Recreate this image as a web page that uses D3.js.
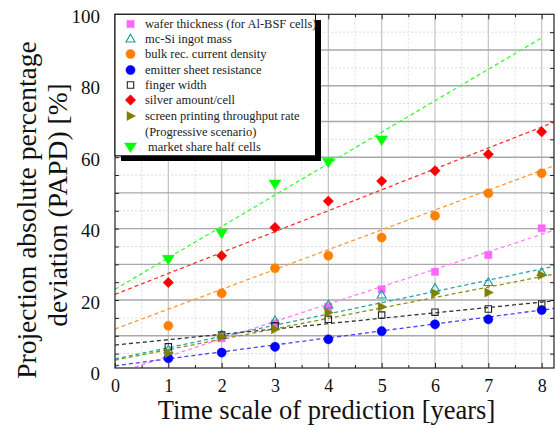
<!DOCTYPE html>
<meta charset="utf-8">
<style>
  body { margin: 0; background: #fff; }
  svg { display: block; }
  svg text { font-family: "Liberation Serif", "Times New Roman", serif; }
</style>
<script src="https://d3js.org/d3.v7.min.js"></script>
<div id="chart"></div>
<script>
  // values
  var years = [1, 2, 3, 4, 5, 6, 7, 8];
  var seriesNames = [
    "wafer thickness (for Al-BSF cells)",
    "mc-Si ingot mass",
    "bulk rec. current density",
    "emitter sheet resistance",
    "finger width",
    "silver amount/cell",
    "screen printing throughput rate",
    "market share half cells"
  ];
  var wafer    = [4.2, 9.3, 13.5, 18.1, 23.0, 27.9, 32.6, 40.1];
  var ingot    = [6.0, 10.2, 14.2, 18.6, 21.4, 23.3, 24.9, 27.7];
  var bulk     = [12.8, 21.9, 28.9, 32.4, 37.5, 43.6, 49.9, 55.5];
  var emitter  = [3.7, 5.3, 6.9, 9.0, 11.3, 13.2, 14.6, 17.2];
  var finger   = [6.9, 10.2, 12.8, 14.6, 15.8, 16.6, 17.5, 18.9];
  var silver   = [24.9, 32.4, 40.3, 47.7, 53.3, 56.2, 60.8, 67.1];
  var printing = [5.1, 9.7, 11.8, 16.5, 18.1, 21.9, 22.1, 27.0];
  var halfCell = [31.4, 38.7, 52.5, 58.6, 64.8];

  // dashed fit lines: value at year 0 and at trendTo
  var trendStart = [-0.6, 3.5, 11.9, 1.6, 7.4, 21.6, 3.2, 23.0];
  var trendEnd   = [39.6, 29.5, 57.7, 17.7, 19.8, 69.9, 27.3, 93.4];
  var trendTo    = [8.25, 8.25, 8.25, 8.25, 8.25, 8.25, 8.25, 8];

  var xTicks = [0, 1, 2, 3, 4, 5, 6, 7, 8];
  var yTicks = [0, 20, 40, 60, 80, 100];

  var allValues = [wafer, ingot, bulk, emitter, finger, silver, printing, halfCell];
  var colors = ["#ff66ff", "#1a9a9a", "#ff8000", "#0000ff", "#222222", "#ff0000", "#7f7f00", "#00ff00"];
  var lineColors = ["#ff80ff", "#2aa5a5", "#ff9933", "#4444ff", "#333333", "#ff3333", "#8f8f10", "#33ff33"];
  var shapes = ["square", "triUpOpen", "circle", "circle", "squareOpen", "diamond", "triRight", "triDown"];

  var W = 555, H = 428;
  var pLeft = 115, pRight = 554, pTop = 14.3, pBottom = 368;
  var serif = "Liberation Serif, Times New Roman, serif";

  var x = d3.scaleLinear().domain([0, 8.25]).range([115, 555]);
  var y = d3.scaleLinear().domain([0, 100]).range([371.5, 14.3]);

  var svg = d3.select("#chart").append("svg")
    .attr("width", W).attr("height", H);

  svg.append("defs").append("clipPath").attr("id", "plotClip")
    .append("rect").attr("x", pLeft).attr("y", pTop)
    .attr("width", pRight - pLeft).attr("height", pBottom - pTop);

  // grid
  var grid = svg.append("g").attr("clip-path", "url(#plotClip)");
  d3.range(0.5, 8.3, 0.5).forEach(function(v) {
    var major = v % 1 === 0;
    grid.append("line")
      .attr("x1", x(v)).attr("x2", x(v)).attr("y1", pTop).attr("y2", pBottom)
      .attr("stroke", major ? "#c4c4c4" : "#d4d4d4")
      .attr("stroke-width", major ? 1.2 : 0.8)
      .attr("stroke-dasharray", major ? null : "2,2");
  });
  d3.range(5, 100, 5).forEach(function(v) {
    var major = v % 10 === 0;
    grid.append("line")
      .attr("x1", pLeft).attr("x2", pRight).attr("y1", y(v)).attr("y2", y(v))
      .attr("stroke", major ? "#a8a8a8" : "#d0d0d0")
      .attr("stroke-width", major ? 1.4 : 0.8)
      .attr("stroke-dasharray", major ? null : "2,2");
  });

  // tick marks inside the frame
  function inTicks(axis, vals, size) {
    return axis.tickValues(vals).tickSize(size).tickFormat("");
  }
  var majX = d3.range(0, 8.3, 1), minX = d3.range(0.5, 8.3, 1);
  var tickY = d3.range(5, 100, 5);
  [[d3.axisTop, pBottom], [d3.axisBottom, pTop]].forEach(function(a) {
    svg.append("g").attr("transform", "translate(0," + a[1] + ")")
      .call(inTicks(a[0](x), majX, 5)).call(function(g) { g.select(".domain").remove(); });
    svg.append("g").attr("transform", "translate(0," + a[1] + ")")
      .call(inTicks(a[0](x), minX, 3)).call(function(g) { g.select(".domain").remove(); });
  });
  svg.append("g").attr("transform", "translate(" + pLeft + ",0)")
    .call(inTicks(d3.axisRight(y), tickY, 4)).call(function(g) { g.select(".domain").remove(); });
  svg.append("g").attr("transform", "translate(" + pRight + ",0)")
    .call(inTicks(d3.axisLeft(y), tickY, 4)).call(function(g) { g.select(".domain").remove(); });
  svg.selectAll(".tick line").attr("stroke", "#222");

  // tick labels
  var xAxis = svg.append("g").attr("transform", "translate(0," + pBottom + ")")
    .call(d3.axisBottom(x).tickValues(xTicks).tickSize(0).tickPadding(11));
  xAxis.select(".domain").remove();
  xAxis.attr("font-family", serif);
  xAxis.selectAll("text").attr("font-size", "18px").attr("fill", "#111");

  var yAxis = svg.append("g").attr("transform", "translate(" + pLeft + ",0)")
    .call(d3.axisLeft(y).tickValues(yTicks).tickSize(0).tickPadding(15));
  yAxis.select(".domain").remove();
  yAxis.attr("font-family", serif);
  yAxis.selectAll("text").attr("font-size", "19px").attr("fill", "#111").attr("dy", "0.42em");

  // fit lines
  var plot = svg.append("g").attr("clip-path", "url(#plotClip)");
  allValues.forEach(function(vals, i) {
    plot.append("line")
      .attr("x1", x(0)).attr("y1", y(trendStart[i]))
      .attr("x2", x(trendTo[i])).attr("y2", y(trendEnd[i]))
      .attr("stroke", lineColors[i]).attr("stroke-width", 1.3)
      .attr("stroke-dasharray", "4,3");
  });

  // markers
  function shapePath(s) {
    switch (s) {
      case "square": case "squareOpen":
        var h = s === "square" ? 3.6 : 3.2;
        return "M" + (-h) + "," + (-h) + "H" + h + "V" + h + "H" + (-h) + "Z";
      case "circle":
        return d3.symbol(d3.symbolCircle, 66)();
      case "diamond":
        return "M0,-5.2L5.2,0L0,5.2L-5.2,0Z";
      case "triUpOpen":
        return "M0,-4.8L4.5,3L-4.5,3Z";
      case "triRight":
        return "M-3.5,-4.5L5,0L-3.5,4.5Z";
      case "triDown":
        return "M-6,-4L6,-4L0,5.5Z";
    }
  }
  function drawMarker(g, s, col, cx, cy) {
    var open = s === "triUpOpen" || s === "squareOpen";
    g.append("path").attr("d", shapePath(s))
      .attr("transform", "translate(" + cx + "," + cy + ")")
      .attr("fill", open ? "none" : col)
      .attr("stroke", col).attr("stroke-width", open ? 1.1 : 0.5);
  }
  allValues.forEach(function(vals, i) {
    vals.forEach(function(v, j) {
      drawMarker(plot, shapes[i], colors[i], x(years[j]), y(v));
    });
  });

  // frame
  svg.append("rect").attr("x", pLeft).attr("y", pTop)
    .attr("width", pRight - pLeft).attr("height", pBottom - pTop)
    .attr("fill", "none").attr("stroke", "#222").attr("stroke-width", 1.2);

  // legend
  var lg = svg.append("g");
  lg.append("rect").attr("x", 121).attr("y", 20).attr("width", 200).attr("height", 141).attr("fill", "#000");
  lg.append("rect").attr("x", pLeft).attr("y", pTop).attr("width", 200.5).attr("height", 141.5)
    .attr("fill", "#fff").attr("stroke", "#000").attr("stroke-width", 1);
  var rows = [24, 39, 54, 70, 85, 100, 116, 147];
  seriesNames.forEach(function(name, i) {
    drawMarker(lg, shapes[i], colors[i], 130.5, rows[i]);
    lg.append("text").attr("x", i === 7 ? 148 : 145).attr("y", rows[i]).attr("dy", "0.34em")
      .attr("font-family", serif).attr("font-size", "12.5px").attr("fill", "#222").text(name);
  });
  lg.append("text").attr("x", 145).attr("y", 131.5).attr("dy", "0.34em")
    .attr("font-family", serif).attr("font-size", "12.5px").attr("fill", "#222").text("(Progressive scenario)");

  // axis titles
  svg.append("text").attr("x", 326.5).attr("y", 419).attr("text-anchor", "middle")
    .attr("font-family", serif).attr("font-size", "26.5px").attr("fill", "#111")
    .text("Time scale of prediction [years]");
  svg.append("text").attr("transform", "translate(36,210) rotate(-90)").attr("text-anchor", "middle")
    .attr("font-family", serif).attr("font-size", "27.5px").attr("fill", "#111")
    .text("Projection absolute percentage");
  svg.append("text").attr("transform", "translate(67,205) rotate(-90)").attr("text-anchor", "middle")
    .attr("font-family", serif).attr("font-size", "27.5px").attr("fill", "#111")
    .text("deviation (PAPD) [%]");
</script>
